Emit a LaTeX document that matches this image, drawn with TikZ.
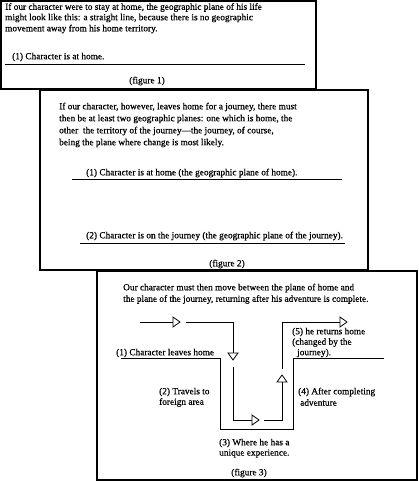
\documentclass[tikz,border=0pt]{standalone}
\usepackage{fontspec}
\setmainfont{Liberation Serif}[FakeBold=0.5]
\begin{document}
\begin{tikzpicture}[x=1pt,y=-1pt,
  txt/.style={anchor=west,inner sep=0pt,font=\fontsize{9.3}{11}\selectfont},
  ctxt/.style={anchor=center,inner sep=0pt,font=\fontsize{9.3}{11}\selectfont},
  frame/.style={draw=black,line width=1.3pt,fill=white},
  ln/.style={draw=black,line width=0.9pt},
  tri/.pic={\draw[line width=0.8pt,fill=white] (-7,-5) -- (0,0) -- (-7,5) -- cycle;}]
\useasboundingbox (0,0) rectangle (418,481);
% frames
\draw[frame] (1,1) rectangle (316,89);
\draw[frame] (40,90) rectangle (368,270);
\draw[frame] (97,271) rectangle (417,480);
% figure 1
\node[txt] (a1) at (5,7.5) {If our character were to stay at home, the geographic plane of his life};
\node[txt] (a2) at (5,18) {might look like this: a straight line, because there is no geographic};
\node[txt] (a3) at (5,29) {movement away from his home territory.};
\node[txt] (a4) at (12,57) {(1) Character is at home.};
\coordinate (h1s) at (5,64); \coordinate (h1e) at (305,64);
\draw[ln] (h1s) -- (h1e);
\node[ctxt] (f1) at (147,81) {(figure 1)};
% figure 2
\node[txt] (b1) at (59,107) {If our character, however, leaves home for a journey, there must};
\node[txt] (b2) at (59,119) {then be at least two geographic planes: one which is home, the};
\node[txt] (b3) at (59,131) {other\ \ the territory of the journey---the journey, of course,};
\node[txt] (b4) at (59,143) {being the plane where change is most likely.};
\node[txt] (b5) at (86,173) {(1) Character is at home (the geographic plane of home).};
\coordinate (h2s) at (72,179); \coordinate (h2e) at (342,179);
\draw[ln] (h2s) -- (h2e);
\node[txt] (b6) at (86,236) {(2) Character is on the journey (the geographic plane of the journey).};
\coordinate (h3s) at (80,243); \coordinate (h3e) at (345,243);
\draw[ln] (h3s) -- (h3e);
\node[ctxt] (f2) at (227,264) {(figure 2)};
% figure 3
\node[txt] (c1) at (123,288) {Our character must then move between the plane of home and};
\node[txt] (c2) at (123,299.5) {the plane of the journey, returning after his adventure is complete.};
\node[txt] (l1) at (116,353) {(1) Character leaves home};
\node[txt] (l2a) at (159,392) {(2) Travels to};
\node[txt] (l2b) at (159,402.5) {foreign area};
\node[txt] (l3a) at (219,443) {(3) Where he has a};
\node[txt] (l3b) at (219,453.5) {unique experience.};
\node[txt] (l4a) at (298,392) {(4) After completing};
\node[txt] (l4b) at (300,402.5) {adventure};
\node[txt] (l5a) at (292,332) {(5) he returns home};
\node[txt] (l5b) at (292,342.5) {(changed by the};
\node[txt] (l5c) at (297,353) {journey).};
\node[ctxt] (f3) at (249,473) {(figure 3)};
% home path
\coordinate (p0) at (121,358);
\coordinate (p1) at (220,358);
\coordinate (p2) at (220,429);
\coordinate (p3) at (293,429);
\coordinate (p4) at (293,358);
\coordinate (p5) at (384,358);
\draw[ln] (p0) -- (p1) -- (p2) -- (p3) -- (p4) -- (p5);
% journey path with open arrowheads
\coordinate (q0) at (140,322);
\coordinate (q1) at (173,322);
\draw[ln] (q0) -- (q1);
\pic at (180,322) {tri};
\coordinate (q2) at (186,322);
\coordinate (q3) at (233,322);
\coordinate (q4) at (233,354);
\draw[ln] (q2) -- (q3) -- (q4);
\pic[rotate=-90] at (233,360) {tri};
\coordinate (q5) at (233,367);
\coordinate (q6) at (233,420);
\coordinate (q7) at (252,420);
\draw[ln] (q5) -- (q6) -- (q7);
\pic at (259,420) {tri};
\coordinate (q8) at (264,420);
\coordinate (q9) at (282,420);
\coordinate (q10) at (282,382);
\draw[ln] (q8) -- (q9) -- (q10);
\pic[rotate=90] at (282,375) {tri};
\coordinate (q11) at (282,369);
\coordinate (q12) at (282,322);
\coordinate (q13) at (340,322);
\draw[ln] (q11) -- (q12) -- (q13);
\pic at (347,322) {tri};
\end{tikzpicture}
\end{document}
